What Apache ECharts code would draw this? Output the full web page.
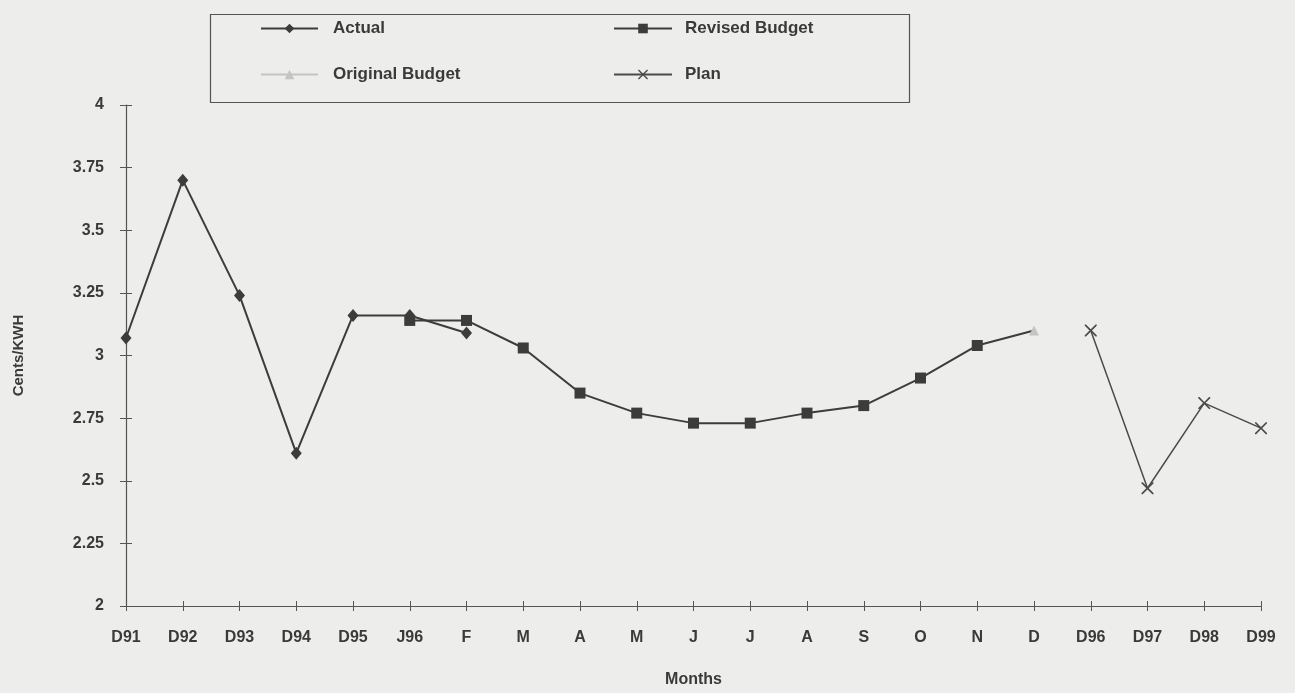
<!DOCTYPE html>
<html>
<head>
<meta charset="utf-8">
<script src="https://cdn.jsdelivr.net/npm/echarts@6/dist/echarts.min.js"></script>
<style>
html,body{margin:0;padding:0;background:#ededeb;}
#chart{width:1295px;height:693px;}
</style>
</head>
<body>
<div id="chart"></div>
<script>
const categories = ['D91','D92','D93','D94','D95','J96','F','M','A','M','J','J','A','S','O','N','D','D96','D97','D98','D99'];
const actual = [3.07, 3.70, 3.24, 2.61, 3.16, 3.16, 3.09, null, null, null, null, null, null, null, null, null, null, null, null, null, null];
const revisedBudget = [null, null, null, null, null, 3.14, 3.14, 3.03, 2.85, 2.77, 2.73, 2.73, 2.77, 2.80, 2.91, 3.04, 3.10, null, null, null, null];
const originalBudget = [null, null, null, null, null, null, null, null, null, null, null, null, null, null, null, null, 3.10, null, null, null, null];
const plan = [null, null, null, null, null, null, null, null, null, null, null, null, null, null, null, null, null, 3.10, 2.47, 2.81, 2.71];
const yMin = 2, yMax = 4, yStep = 0.25;

const ink = '#3a3a3a';
const font = 'Liberation Sans, Arial, sans-serif';
const crossPath = 'path://M0,0L2,0L10,8L18,0L20,0L20,2L12,10L20,18L20,20L18,20L10,12L2,20L0,20L0,18L8,10L0,2Z';

const chart = echarts.init(document.getElementById('chart'));
const revData = revisedBudget.map((v, i) => (i === 16 ? { value: v, symbol: 'none' } : v));

chart.setOption({
  backgroundColor: '#ededeb',
  animation: false,
  graphic: [{
    type: 'rect', left: 208, top: 12,
    shape: { width: 699, height: 88 },
    style: { fill: 'none', stroke: '#555', lineWidth: 1.2 }
  }],
  legend: [{
    orient: 'vertical', left: 255, top: 15, itemGap: 29,
    itemWidth: 57, itemHeight: 12,
    data: ['Actual', 'Original Budget'],
    textStyle: { fontFamily: font, fontWeight: 'bold', fontSize: 17, color: ink, padding: [0, 0, 0, 10] }
  }, {
    orient: 'vertical', left: 608, top: 15, itemGap: 29,
    itemWidth: 58, itemHeight: 12,
    data: ['Revised Budget', 'Plan'],
    textStyle: { fontFamily: font, fontWeight: 'bold', fontSize: 17, color: ink, padding: [0, 0, 0, 8] }
  }],
  grid: { left: 126, right: 34, top: 105, bottom: 84, containLabel: false },
  xAxis: [{
    type: 'category', data: categories, boundaryGap: false,
    name: 'Months', nameLocation: 'middle', nameGap: 66,
    nameTextStyle: { fontFamily: font, fontWeight: 'bold', fontSize: 16, color: ink },
    axisLine: { lineStyle: { color: '#555', width: 1.2 } },
    axisTick: { show: true, alignWithLabel: true, length: 5, lineStyle: { color: '#555' } },
    axisLabel: { fontFamily: font, fontWeight: 'bold', fontSize: 16, color: ink, margin: 24, interval: 0 },
    splitLine: { show: false }
  }, {
    type: 'category', data: categories, boundaryGap: false, position: 'bottom',
    axisLine: { show: false },
    axisTick: { show: true, inside: true, length: 5, lineStyle: { color: '#555' } },
    axisLabel: { show: false }, splitLine: { show: false }
  }],
  yAxis: [{
    type: 'value', min: yMin, max: yMax, interval: yStep,
    name: 'Cents/KWH', nameLocation: 'middle', nameGap: 100, nameRotate: 90,
    nameTextStyle: { fontFamily: font, fontWeight: 'bold', fontSize: 15, color: ink },
    axisLine: { show: true, lineStyle: { color: '#555', width: 1.2 } },
    axisTick: { show: true, length: 6, lineStyle: { color: '#555' } },
    axisLabel: { fontFamily: font, fontWeight: 'bold', fontSize: 16, color: ink, margin: 22, formatter: v => String(v) },
    splitLine: { show: false }
  }, {
    type: 'value', min: yMin, max: yMax, interval: yStep, position: 'left',
    axisLine: { show: false },
    axisTick: { show: true, inside: true, length: 6, lineStyle: { color: '#555' } },
    axisLabel: { show: false }, splitLine: { show: false }
  }],
  series: [{
    name: 'Actual', type: 'line', data: actual,
    symbol: 'diamond', symbolSize: [11, 13],
    lineStyle: { color: '#3c3c3c', width: 2 },
    itemStyle: { color: '#3c3c3c' }, z: 3
  }, {
    name: 'Revised Budget', type: 'line', data: revData,
    symbol: 'rect', symbolSize: 11,
    lineStyle: { color: '#3c3c3c', width: 2 },
    itemStyle: { color: '#3c3c3c' }, z: 4
  }, {
    name: 'Original Budget', type: 'line', data: originalBudget,
    symbol: 'triangle', symbolSize: 10,
    lineStyle: { color: '#c4c4c4', width: 1.5 },
    itemStyle: { color: '#c4c4c4' }, z: 5
  }, {
    name: 'Plan', type: 'line', data: plan,
    symbol: crossPath, symbolSize: 12,
    lineStyle: { color: '#4a4a4a', width: 1.5 },
    itemStyle: { color: '#4a4a4a' }, z: 3
  }]
});
</script>
</body>
</html>
